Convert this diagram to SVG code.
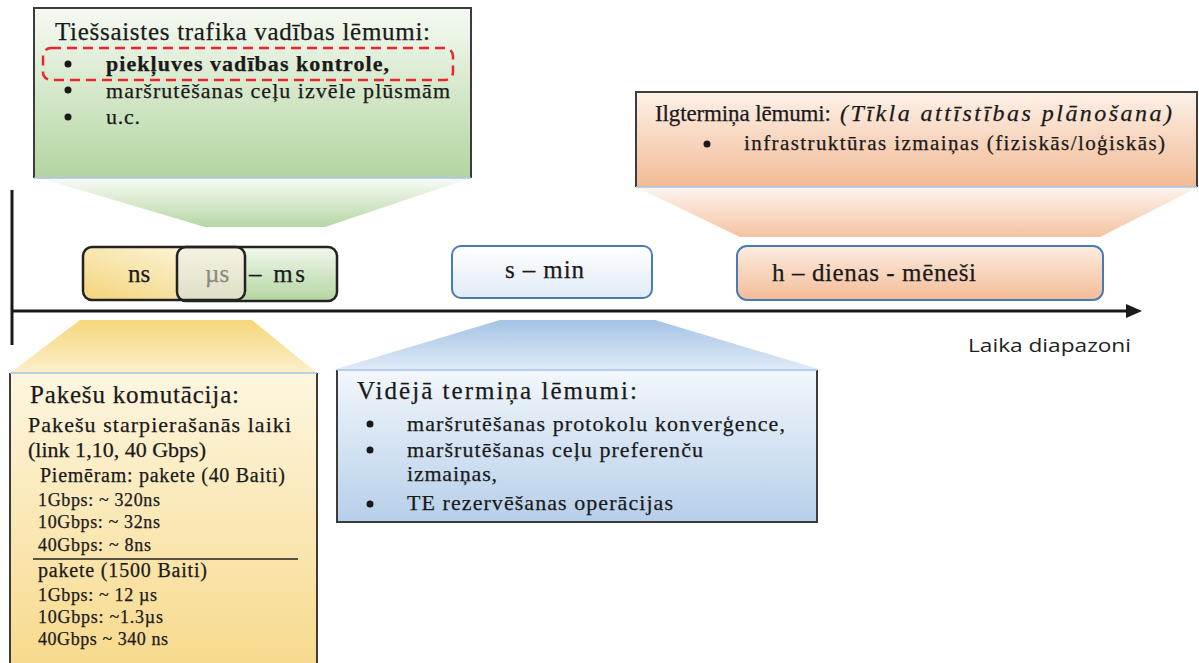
<svg xmlns="http://www.w3.org/2000/svg" width="1199" height="663" viewBox="0 0 1199 663">
<defs>
<linearGradient id="gGreenBox" x1="0" y1="0" x2="0" y2="1"><stop offset="0" stop-color="#f6faf3"/><stop offset="1" stop-color="#b3d5a0"/></linearGradient>
<linearGradient id="gGreenTrap" x1="0" y1="0" x2="0" y2="1"><stop offset="0" stop-color="#f8fbf6"/><stop offset="1" stop-color="#b5d7a4"/></linearGradient>
<linearGradient id="gOrangeBox" x1="0" y1="0" x2="0" y2="1"><stop offset="0" stop-color="#fdf1e8"/><stop offset="1" stop-color="#f2bb95"/></linearGradient>
<linearGradient id="gOrangeTrap" x1="0" y1="0" x2="0" y2="1"><stop offset="0" stop-color="#fdf4ee"/><stop offset="1" stop-color="#f4c3a2"/></linearGradient>
<linearGradient id="gYellowBox" x1="0" y1="0" x2="0" y2="1"><stop offset="0" stop-color="#fdf6e0"/><stop offset="1" stop-color="#f7d98a"/></linearGradient>
<linearGradient id="gYellowTrap" x1="0" y1="0" x2="0" y2="1"><stop offset="0" stop-color="#f6d67a"/><stop offset="1" stop-color="#fcf0cc"/></linearGradient>
<linearGradient id="gBlueTrap" x1="0" y1="0" x2="0" y2="1"><stop offset="0" stop-color="#a4c3e5"/><stop offset="1" stop-color="#e0ebf7"/></linearGradient>
<linearGradient id="gBlueBox" x1="0" y1="0" x2="0" y2="1"><stop offset="0" stop-color="#f2f7fc"/><stop offset="1" stop-color="#b6cfea"/></linearGradient>
<linearGradient id="gNs" x1="1" y1="0" x2="0" y2="1"><stop offset="0" stop-color="#fefaea"/><stop offset="1" stop-color="#f4d47c"/></linearGradient>
<linearGradient id="gMs" x1="0" y1="0" x2="0" y2="1"><stop offset="0" stop-color="#f1f8ee"/><stop offset="1" stop-color="#b3d59f"/></linearGradient>
<linearGradient id="gOv" x1="0" y1="0" x2="0" y2="1"><stop offset="0" stop-color="#f5f2e2"/><stop offset="1" stop-color="#dedfc6"/></linearGradient>
<linearGradient id="gSmin" x1="0" y1="0" x2="0" y2="1"><stop offset="0" stop-color="#ffffff"/><stop offset="1" stop-color="#e1ebf7"/></linearGradient>
<linearGradient id="gH" x1="0" y1="0" x2="0" y2="1"><stop offset="0" stop-color="#fcece1"/><stop offset="1" stop-color="#f3bc97"/></linearGradient>
</defs>
<style>
text{font-family:"Liberation Serif","Times New Roman",serif;fill:#1a1a1a;stroke:#1a1a1a;stroke-width:0.25px}
.h{font-size:25px}
.b{font-size:22px}
.m{font-size:20px}
.s{font-size:18px}
.side{stroke:#3c3c3c;stroke-width:2;fill:none}
.edge{stroke:#a9c3e6;stroke-width:1.5;fill:none}
.tl{stroke-width:2.5}
.ax{stroke:#1a1a1a;stroke-width:3;fill:none}
.dot{fill:#1a1a1a}
.gray{fill:#8a8a80;stroke:#8a8a80}
.sans{font-family:"Open Sans","Liberation Sans",sans-serif;font-size:19px;fill:#222;stroke:none}
</style>

<g id="connectors">
<polygon points="40,178 471,178 325,227 205,227" fill="url(#gGreenTrap)"/>
<polygon points="636,187 1199,187 1100,237 740,237" fill="url(#gOrangeTrap)"/>
<polygon points="80,320 252,320 317,373 10,373" fill="url(#gYellowTrap)"/>
<polygon points="500,320 655,320 822,370 333,370" fill="url(#gBlueTrap)"/>
<line class="ax" x1="12" y1="190" x2="12" y2="345"/>
<line class="ax" x1="12" y1="311" x2="1128" y2="311"/>
<polygon points="1126,304 1142,311 1126,318" fill="#1a1a1a"/>
</g>

<g id="online">
<rect x="34" y="8" width="437" height="170" fill="url(#gGreenBox)"/>
<path class="side" d="M34,178 V8 H471 V178"/>
<line class="edge" x1="34" y1="178" x2="471" y2="178"/>
<text class="h" x="55" y="40" textLength="375" lengthAdjust="spacing">Tiešsaistes trafika vadības lēmumi:</text>
<rect x="43" y="48" width="410" height="32" rx="8" fill="none" stroke="#e8272c" stroke-width="2.5" stroke-dasharray="10 6"/>
<circle class="dot" cx="68" cy="64" r="3.5"/>
<text class="b" x="106" y="71" font-weight="bold" textLength="283" lengthAdjust="spacing">piekļuves vadības kontrole,</text>
<circle class="dot" cx="68" cy="90" r="3.5"/>
<text class="b" x="106" y="98" textLength="344" lengthAdjust="spacing">maršrutēšanas ceļu izvēle plūsmām</text>
<circle class="dot" cx="68" cy="117" r="3.5"/>
<text class="b" x="106" y="124" textLength="34" lengthAdjust="spacing">u.c.</text>
</g>

<g id="longterm">
<rect x="636" y="92" width="561" height="95" fill="url(#gOrangeBox)"/>
<path class="side" d="M636,187 V92 H1197 V187"/>
<line class="edge" x1="636" y1="187" x2="1197" y2="187"/>
<text x="655" y="121" textLength="176" lengthAdjust="spacing" style="font-size:23px">Ilgtermiņa lēmumi:</text>
<text x="840" y="121" font-style="italic" textLength="332" lengthAdjust="spacing" style="font-size:24px">(Tīkla attīstības plānošana)</text>
<circle class="dot" cx="707" cy="144" r="3.5"/>
<text class="m" x="744" y="150" textLength="421" lengthAdjust="spacing" style="font-size:21px">infrastruktūras izmaiņas (fiziskās/loģiskās)</text>
</g>

<g id="range-ns-ms">
<rect x="177" y="247" width="160" height="54" rx="9" fill="url(#gMs)"/>
<rect x="83" y="247" width="162" height="53" rx="9" fill="url(#gNs)"/>
<rect x="178" y="248" width="66" height="52" fill="url(#gOv)"/>
<rect x="177" y="247" width="160" height="54" rx="9" fill="none" stroke="#222" class="tl"/>
<rect x="83" y="247" width="162" height="53" rx="9" fill="none" stroke="#222" class="tl"/>
<text class="h" x="139" y="282" text-anchor="middle">ns</text>
<text class="h gray" x="205" y="282">µs</text>
<text class="h" x="249" y="282" textLength="56" lengthAdjust="spacing">– ms</text>
</g>

<g id="range-s-min">
<rect x="452" y="246" width="200" height="52" rx="9" fill="url(#gSmin)" stroke="#4b7bb4" stroke-width="2"/>
<text class="h" x="505" y="278" textLength="79" lengthAdjust="spacing">s – min</text>
</g>

<g id="range-h">
<rect x="737" y="246" width="366" height="54" rx="10" fill="url(#gH)" stroke="#4b7bb4" stroke-width="2"/>
<text class="h" x="772" y="281" textLength="204" lengthAdjust="spacing">h – dienas - mēneši</text>
</g>

<g id="axis-label">
<text class="sans" x="968" y="352" textLength="163" lengthAdjust="spacingAndGlyphs">Laika diapazoni</text>
</g>

<g id="packet">
<rect x="10" y="373" width="307" height="300" fill="url(#gYellowBox)"/>
<path class="side" d="M10,663 V373 M317,373 V663"/>
<line class="edge" x1="10" y1="373" x2="317" y2="373"/>
<text class="h" x="30" y="403" textLength="209" lengthAdjust="spacing">Pakešu komutācija:</text>
<text class="b" x="28" y="432" textLength="263" lengthAdjust="spacing">Pakešu starpierašanās laiki</text>
<text class="b" x="28" y="457" textLength="178" lengthAdjust="spacing">(link 1,10, 40 Gbps)</text>
<text class="m" x="40" y="482" textLength="245" lengthAdjust="spacing">Piemēram: pakete (40 Baiti)</text>
<text class="s" x="38" y="506" textLength="122" lengthAdjust="spacing">1Gbps: ~ 320ns</text>
<text class="s" x="38" y="528" textLength="122" lengthAdjust="spacing">10Gbps: ~ 32ns</text>
<text class="s" x="38" y="551" textLength="113" lengthAdjust="spacing">40Gbps: ~ 8ns</text>
<line x1="33" y1="559" x2="298" y2="559" stroke="#222" stroke-width="1.5"/>
<text class="m" x="38" y="577" textLength="169" lengthAdjust="spacing">pakete (1500 Baiti)</text>
<text class="s" x="38" y="601" textLength="119" lengthAdjust="spacing">1Gbps: ~ 12 µs</text>
<text class="s" x="38" y="623" textLength="125" lengthAdjust="spacing">10Gbps: ~1.3µs</text>
<text class="s" x="38" y="645" textLength="130" lengthAdjust="spacing">40Gbps ~ 340 ns</text>
</g>

<g id="midterm">
<rect x="337" y="370" width="480" height="152" fill="url(#gBlueBox)"/>
<path class="side" d="M337,370 V522 H817 V370"/>
<line class="edge" x1="337" y1="370" x2="817" y2="370"/>
<text class="h" x="357" y="399" textLength="280" lengthAdjust="spacing">Vidējā termiņa lēmumi:</text>
<circle class="dot" cx="370" cy="424" r="3.5"/>
<text class="b" x="407" y="431" textLength="378" lengthAdjust="spacing">maršrutēšanas protokolu konverģence,</text>
<circle class="dot" cx="370" cy="450" r="3.5"/>
<text class="b" x="407" y="457" textLength="296" lengthAdjust="spacing">maršrutēšanas ceļu preferenču</text>
<text class="b" x="407" y="481" textLength="90" lengthAdjust="spacing">izmaiņas,</text>
<circle class="dot" cx="370" cy="504" r="3.5"/>
<text class="b" x="407" y="510" textLength="266" lengthAdjust="spacing">TE rezervēšanas operācijas</text>
</g>
</svg>
